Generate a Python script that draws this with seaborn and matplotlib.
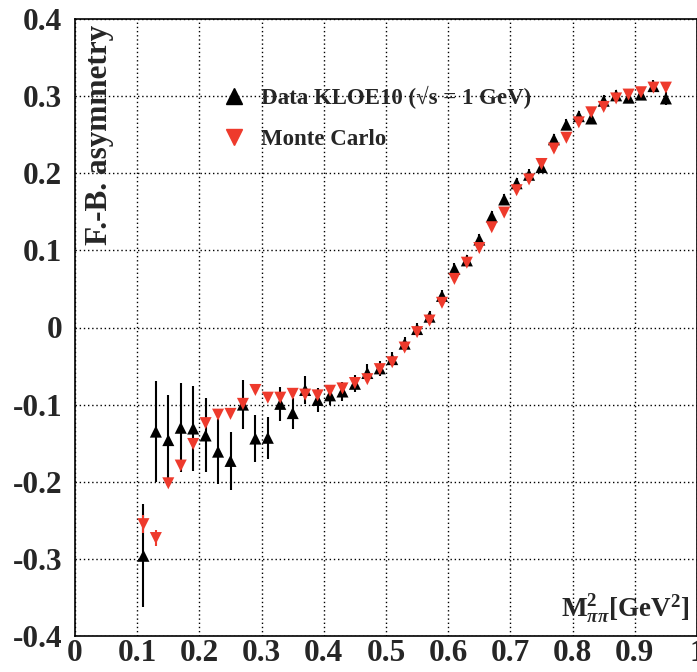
import numpy as np
import pandas as pd
import seaborn as sns
import matplotlib
matplotlib.use("Agg")
import matplotlib.pyplot as plt
from matplotlib.lines import Line2D
from matplotlib.ticker import MultipleLocator

# ---------------- data ----------------
mass2 = [0.11, 0.13, 0.15, 0.17, 0.19, 0.21, 0.23, 0.25, 0.27, 0.29, 0.31,
         0.33, 0.35, 0.37, 0.39, 0.41, 0.43, 0.45, 0.47, 0.49, 0.51, 0.53,
         0.55, 0.57, 0.59, 0.61, 0.63, 0.65, 0.67, 0.69, 0.71, 0.73, 0.75,
         0.77, 0.79, 0.81, 0.83, 0.85, 0.87, 0.89, 0.91, 0.93, 0.95]

data_asym = [-0.296, -0.135, -0.146, -0.130, -0.131, -0.140, -0.161, -0.173,
             -0.100, -0.144, -0.143, -0.099, -0.111, -0.081, -0.094, -0.088,
             -0.083, -0.073, -0.059, -0.053, -0.041, -0.021, -0.002, 0.014,
             0.041, 0.076, 0.087, 0.114, 0.144, 0.166, 0.187, 0.198, 0.208,
             0.244, 0.263, 0.274, 0.271, 0.294, 0.301, 0.298, 0.302, 0.313,
             0.297]
data_err = [0.067, 0.065, 0.059, 0.058, 0.055, 0.048, 0.042, 0.038, 0.032,
            0.030, 0.027, 0.022, 0.020, 0.018, 0.016, 0.013, 0.012, 0.011,
            0.012, 0.010, 0.009, 0.009, 0.008, 0.008, 0.007, 0.007, 0.007,
            0.007, 0.007, 0.007, 0.007, 0.007, 0.007, 0.007, 0.007, 0.007,
            0.007, 0.007, 0.007, 0.007, 0.007, 0.008, 0.008]

mc_asym = [-0.255, -0.273, -0.202, -0.179, -0.151, -0.124, -0.113, -0.112,
           -0.099, -0.081, -0.091, -0.091, -0.086, -0.087, -0.088, -0.082,
           -0.079, -0.072, -0.067, -0.054, -0.045, -0.026, -0.006, 0.009,
           0.032, 0.063, 0.084, 0.103, 0.130, 0.149, 0.178, 0.192, 0.212,
           0.232, 0.246, 0.266, 0.279, 0.286, 0.297, 0.302, 0.305, 0.311,
           0.311]
mc_err = [0.012, 0.010] + [0.004] * 41

labels = ["Data KLOE10 (\u221as = 1 GeV)", "Monte Carlo"]
x_ticks = [0, 0.1, 0.2, 0.3, 0.4, 0.5, 0.6, 0.7, 0.8, 0.9, 1]
x_tick_labels = ["0", "0.1", "0.2", "0.3", "0.4", "0.5", "0.6", "0.7", "0.8", "0.9", "1"]
y_ticks = [-0.4, -0.3, -0.2, -0.1, 0, 0.1, 0.2, 0.3, 0.4]
y_tick_labels = ["-0.4", "-0.3", "-0.2", "-0.1", "0", "0.1", "0.2", "0.3", "0.4"]

# ---------------- style ----------------
sns.set_theme(style="white")
plt.rcParams["font.family"] = ["Liberation Serif", "DejaVu Serif"]
plt.rcParams["font.weight"] = "bold"
plt.rcParams["axes.unicode_minus"] = False
plt.rcParams["mathtext.fontset"] = "custom"
plt.rcParams["mathtext.rm"] = "Liberation Serif:bold"
plt.rcParams["mathtext.bf"] = "Liberation Serif:bold"
plt.rcParams["mathtext.it"] = "Liberation Serif:italic"

RED = "#ee3a2c"

df = pd.DataFrame({
    "x": mass2 + mass2,
    "y": data_asym + mc_asym,
    "err": data_err + mc_err,
    "set": [labels[0]] * len(mass2) + [labels[1]] * len(mass2),
})

fig = plt.figure(figsize=(6.97, 6.72), dpi=100)
ax = fig.add_axes([75 / 697, 1 - 636 / 672, 622 / 697, 617 / 672])

# error bars
d = df[df["set"] == labels[0]]
ax.errorbar(d["x"], d["y"], yerr=d["err"], fmt="none", ecolor="black",
            elinewidth=1.5, capsize=0, zorder=2)
m = df[df["set"] == labels[1]]
ax.errorbar(m["x"], m["y"], yerr=m["err"], fmt="none", ecolor=RED,
            elinewidth=1.5, capsize=0, zorder=2)

sns.scatterplot(data=df, x="x", y="y", hue="set", style="set",
                palette={labels[0]: "black", labels[1]: RED},
                markers={labels[0]: "^", labels[1]: "v"},
                s=75, linewidth=0, legend=False, ax=ax, zorder=3)

ax.set_xlim(0, 1)
ax.set_ylim(-0.4, 0.4)
ax.set_xticks(x_ticks)
ax.set_xticklabels(x_tick_labels)
ax.set_yticks(y_ticks)
ax.set_yticklabels(y_tick_labels)
ax.xaxis.set_minor_locator(MultipleLocator(0.02))
ax.yaxis.set_minor_locator(MultipleLocator(0.02))
ax.tick_params(axis="both", which="major", direction="in", length=8, width=1,
               labelsize=22.5, color="black")
ax.tick_params(axis="both", which="minor", direction="in", length=4.5, width=1,
               color="black")
ax.tick_params(axis="x", which="major", pad=2)
ax.tick_params(axis="y", which="major", pad=9)
for lab in ax.get_xticklabels() + ax.get_yticklabels():
    lab.set_fontweight("bold")

ax.grid(True, which="major", linestyle=(0, (1, 2)), color="black", linewidth=1)
for sp in ax.spines.values():
    sp.set_visible(True)
    sp.set_color("black")
    sp.set_linewidth(1.2)

ax.set_xlabel("")
ax.set_ylabel("")
ax.text(0.04, 0.99, "F.-B. asymmetry", transform=ax.transAxes, rotation=90,
        ha="center", va="top", fontsize=22.5, fontweight="bold")
ax.text(0.988, 0.018, r"M$^{2}_{\pi\pi}$[GeV$^{2}$]", transform=ax.transAxes,
        ha="right", va="bottom", fontsize=19.5, fontweight="bold")

handles = [
    Line2D([], [], linestyle="none", marker="^", color="black", markersize=11),
    Line2D([], [], linestyle="none", marker="v", color=RED, markersize=11),
]
leg = ax.legend(handles, labels, loc="upper left", bbox_to_anchor=(0.2, 0.925),
                frameon=False, prop={"family": ["Liberation Serif", "DejaVu Serif"],
                                     "weight": "bold", "size": 16.5},
                handletextpad=0.6, labelspacing=0.85, handlelength=1.2)

fig.savefig("out.png", dpi=100)
